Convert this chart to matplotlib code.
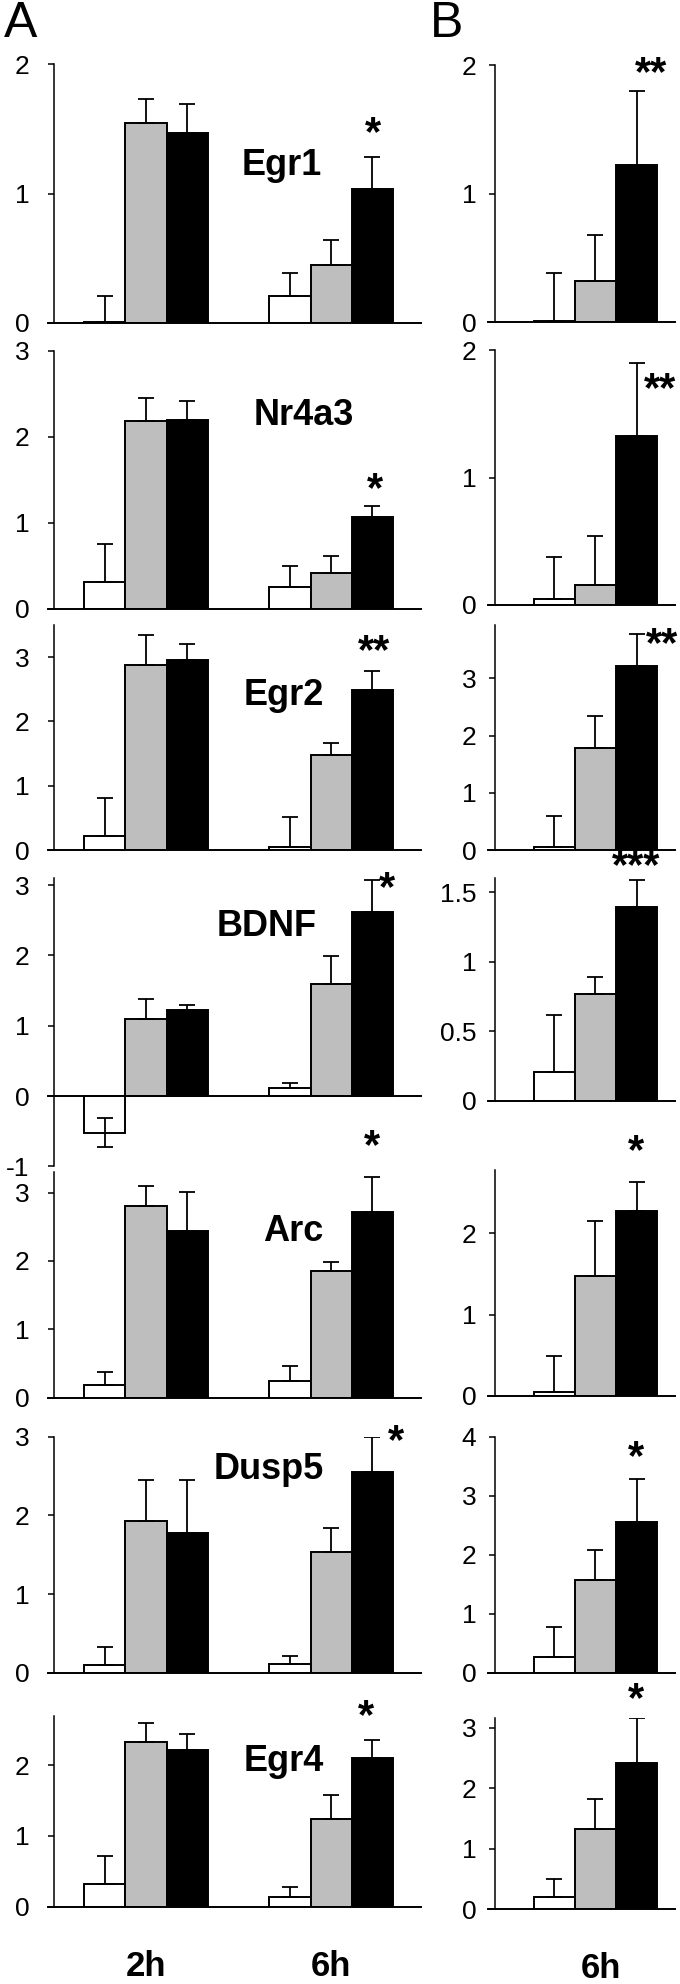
import matplotlib
matplotlib.use("Agg")
import matplotlib.pyplot as plt
from matplotlib import font_manager

narrow = ['Liberation Sans Narrow', 'Liberation Sans', 'DejaVu Sans']
plt.rcParams['font.family'] = narrow

# ---- data ----
genes = ["Egr1", "Nr4a3", "Egr2", "BDNF", "Arc", "Dusp5", "Egr4"]

# column A: two time points (2h, 6h), three groups each (white, gray, black)
a_2h = {
    "Egr1": [0.01, 1.55, 1.47], "Nr4a3": [0.31, 2.18, 2.19], "Egr2": [0.22, 2.87, 2.95],
    "BDNF": [-0.52, 1.09, 1.22], "Arc": [0.19, 2.80, 2.44], "Dusp5": [0.10, 1.93, 1.78],
    "Egr4": [0.32, 2.32, 2.21],
}
a_2h_err = {
    "Egr1": [0.20, 0.18, 0.22], "Nr4a3": [0.45, 0.27, 0.23], "Egr2": [0.59, 0.47, 0.26],
    "BDNF": [0.21, 0.29, 0.07], "Arc": [0.18, 0.29, 0.57], "Dusp5": [0.23, 0.52, 0.67],
    "Egr4": [0.40, 0.27, 0.23],
}
a_6h = {
    "Egr1": [0.21, 0.45, 1.04], "Nr4a3": [0.25, 0.42, 1.07], "Egr2": [0.05, 1.48, 2.49],
    "BDNF": [0.11, 1.60, 2.62], "Arc": [0.25, 1.85, 2.72], "Dusp5": [0.11, 1.53, 2.55],
    "Egr4": [0.14, 1.24, 2.10],
}
a_6h_err = {
    "Egr1": [0.18, 0.19, 0.24], "Nr4a3": [0.25, 0.20, 0.13], "Egr2": [0.46, 0.18, 0.29],
    "BDNF": [0.08, 0.39, 0.45], "Arc": [0.21, 0.14, 0.51], "Dusp5": [0.10, 0.31, 0.45],
    "Egr4": [0.14, 0.34, 0.25],
}
# column B: 6h only
b_6h = {
    "Egr1": [0.01, 0.32, 1.22], "Nr4a3": [0.045, 0.16, 1.33], "Egr2": [0.05, 1.78, 3.21],
    "BDNF": [0.21, 0.77, 1.39], "Arc": [0.04, 1.48, 2.27], "Dusp5": [0.27, 1.57, 2.56],
    "Egr4": [0.21, 1.32, 2.41],
}
b_6h_err = {
    "Egr1": [0.37, 0.36, 0.58], "Nr4a3": [0.335, 0.38, 0.57], "Egr2": [0.54, 0.57, 0.56],
    "BDNF": [0.41, 0.12, 0.20], "Arc": [0.45, 0.67, 0.36], "Dusp5": [0.51, 0.51, 0.73],
    "Egr4": [0.29, 0.51, 0.75],
}

# significance marks
a_stars = {"Egr1": "*", "Nr4a3": "*", "Egr2": "**", "BDNF": "*", "Arc": "*", "Dusp5": "*", "Egr4": "*"}
b_stars = {"Egr1": "**", "Nr4a3": "**", "Egr2": "**", "BDNF": "***", "Arc": "*", "Dusp5": "*", "Egr4": "*"}

a_ticks = {
    "Egr1": [0, 1, 2], "Nr4a3": [0, 1, 2, 3], "Egr2": [0, 1, 2, 3], "BDNF": [-1, 0, 1, 2, 3],
    "Arc": [0, 1, 2, 3], "Dusp5": [0, 1, 2, 3], "Egr4": [0, 1, 2],
}
b_ticks = {
    "Egr1": [0, 1, 2], "Nr4a3": [0, 1, 2], "Egr2": [0, 1, 2, 3], "BDNF": [0, 0.5, 1, 1.5],
    "Arc": [0, 1, 2], "Dusp5": [0, 1, 2, 3, 4], "Egr4": [0, 1, 2, 3],
}
time_labels = ["2h", "6h"]

# ---- layout (pixels in a 680x1984 figure) ----
W, H = 680, 1984
# per gene: y of zero, pixels per unit, ylim
a_rows = {
    "Egr1": (323, 129.3, 0, 2), "Nr4a3": (609, 86.1, 0, 3), "Egr2": (850, 64.3, 0, 3.5),
    "BDNF": (1096, 70.3, -1, 3.1), "Arc": (1397.7, 68.4, 0, 3.3), "Dusp5": (1672.7, 78.7, 0, 3),
    "Egr4": (1906.7, 70.8, 0, 2.7),
}
b_rows = {
    "Egr1": (322, 128.3, 0, 2), "Nr4a3": (605, 127.3, 0, 2), "Egr2": (850, 57.2, 0, 3.93),
    "BDNF": (1101, 139.3, 0, 1.6), "Arc": (1395.7, 81.2, 0, 2.78), "Dusp5": (1672.7, 59, 0, 4),
    "Egr4": (1909.3, 60.5, 0, 3.17),
}
# gene label positions (data coords in column A)
label_pos = {
    "Egr1": (0.735, 1.22), "Nr4a3": (0.85, 2.25), "Egr2": (0.746, 2.41), "BDNF": (0.654, 2.41),
    "Arc": (0.795, 2.43), "Dusp5": (0.665, 2.58), "Egr4": (0.746, 2.05),
}
a_star_pos = {
    "Egr1": (1.225, 1.46), "Nr4a3": (1.24, 1.38), "Egr2": (1.23, 3.08), "BDNF": (1.30, 2.95),
    "Arc": (1.22, 3.67), "Dusp5": (1.35, 2.93), "Egr4": (1.19, 2.68),
}
b_star_pos = {
    "Egr1": (0.30, 1.93), "Nr4a3": (0.35, 1.69), "Egr2": (0.36, 3.58), "BDNF": (0.22, 1.68),
    "Arc": (0.22, 3.0), "Dusp5": (0.22, 3.63), "Egr4": (0.22, 3.46),
}

colors = ["white", "#bebebe", "black"]
width = 0.222
offsets = [-width, 0, width]

fig = plt.figure(figsize=(W / 100, H / 100), dpi=100)


def make_axes(left, right, y0, unit, lo, hi):
    bottom = 1 - (y0 - lo * unit) / H
    height = (hi - lo) * unit / H
    return fig.add_axes([left / W, bottom, (right - left) / W, height])


def style_axes(ax, ticks, lo, hi, pad, base_start):
    ax.set_ylim(lo, hi)
    ax.set_yticks(ticks)
    ax.set_yticklabels([("%g" % t) for t in ticks])
    ax.tick_params(axis='y', direction='out', length=4.5, width=1.1, labelsize=19, pad=pad)
    ax.set_xticks([])
    for s in ["top", "right", "bottom"]:
        ax.spines[s].set_visible(False)
    ax.spines["left"].set_linewidth(1.1)
    ax.spines["left"].set_bounds(lo, hi if hi > max(ticks) + 0.08 else max(ticks))
    ax.axhline(0, xmin=base_start, xmax=1, color="black", lw=1.4, clip_on=False, zorder=5)


def draw_bars(ax, x, means, errs, low=None):
    for i in range(3):
        ax.bar(x + offsets[i], means[i], width, color=colors[i], edgecolor="black",
               linewidth=1.4, zorder=3)
        lower = 0 if low is None else low[i]
        ax.errorbar(x + offsets[i], means[i], yerr=[[lower], [errs[i]]], fmt="none",
                    ecolor="black", elinewidth=1.3, capsize=6, capthick=1.3, zorder=4)


for g in genes:
    # column A
    y0, unit, lo, hi = a_rows[g]
    ax = make_axes(54, 421, y0, unit, lo, hi)
    ax.set_xlim(-0.497, 1.486)
    low = [0.21, 0, 0] if g == "BDNF" else None
    draw_bars(ax, 0, a_2h[g], a_2h_err[g], low)
    draw_bars(ax, 1, a_6h[g], a_6h_err[g])
    style_axes(ax, a_ticks[g], lo, hi, 13, -6 / 367)
    lx, ly = label_pos[g]
    ax.text(lx, ly, g, ha="center", va="center", fontsize=26, fontweight="bold")
    sx, sy = a_star_pos[g]
    ax.text(sx, sy, a_stars[g], ha="center", va="center", fontsize=30, fontweight="bold",
            clip_on=False)
    if g == genes[-1]:
        for k, t in enumerate(time_labels):
            ax.text(k, -0.85, t, ha="center", va="center", fontsize=25, fontweight="bold")

    # column B
    y0, unit, lo, hi = b_rows[g]
    ax = make_axes(495, 675, y0, unit, lo, hi)
    ax.set_xlim(-0.543, 0.43)
    draw_bars(ax, 0, b_6h[g], b_6h_err[g])
    style_axes(ax, b_ticks[g], lo, hi, 9, -7 / 180)
    sx, sy = b_star_pos[g]
    ax.text(sx, sy, b_stars[g], ha="center", va="center", fontsize=30, fontweight="bold",
            clip_on=False)
    if g == genes[-1]:
        ax.text(0.03, -0.98, time_labels[1], ha="center", va="center", fontsize=25,
                fontweight="bold")

fig.text(4 / W, 1 - 24 / H, "A", fontsize=36, va="center", ha="left")
fig.text(430 / W, 1 - 24 / H, "B", fontsize=36, va="center", ha="left")

fig.savefig("out.png", dpi=100)
